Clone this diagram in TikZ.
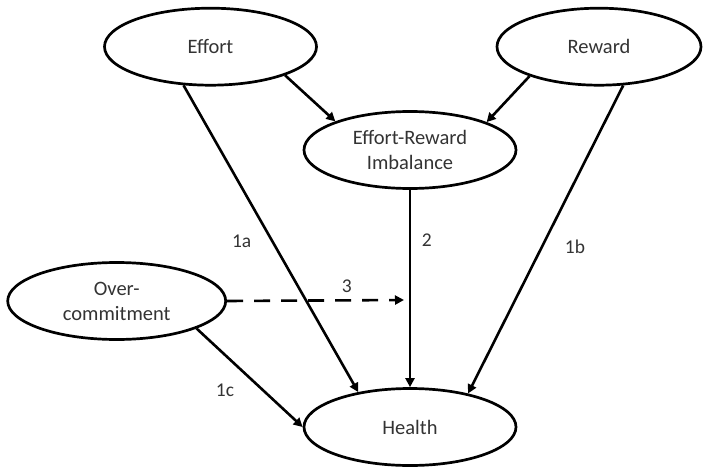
\documentclass[tikz,border=0pt]{standalone}
\usepackage{fontspec}
\setmainfont{Carlito}
\usetikzlibrary{shapes.geometric,arrows.meta}
\begin{document}
\begin{tikzpicture}[x=1pt,y=1pt,
  var/.style={ellipse,draw=black,line width=2.7pt,inner sep=0pt,
    minimum width=212pt,minimum height=77pt,align=center,
    text=black!80,font=\fontsize{20.5}{25}\selectfont},
  conn/.style={line width=2.6pt,-{Triangle[length=9pt,width=9pt]}},
  lbl/.style={text=black!80,font=\fontsize{19.5}{23}\selectfont,inner sep=0pt}]
\useasboundingbox (0,0) rectangle (703,-468);
\node[var] (effort) at (210.5,-46.7) {Effort};
\node[var,minimum width=204pt] (reward) at (599,-46.7) {Reward};
\node[var] (eri) at (410,-150) {Effort-Reward\\Imbalance};
\node[var,minimum width=218pt] (over) at (116.7,-301) {Over-\\commitment};
\node[var] (health) at (410,-427) {Health};
\coordinate (mod) at (404,-300);
\draw[conn] (effort.-21) -- (eri.159.7);
\draw[conn] (reward.203.4) -- (eri.20.9);
\draw[conn] (effort.235.3) -- (health.146.9);
\draw[conn] (reward.302.6) -- (health.30);
\draw[conn] (eri.south) -- (health.north);
\draw[conn] (over.-19.9) -- (health.west);
\draw[conn,dash pattern=on 16pt off 11pt] (over.east) -- (mod);
\node[lbl] (l1a) at (241.7,-241.7) {1a};
\node[lbl] (l2) at (426.7,-240.5) {2};
\node[lbl] (l3) at (346.7,-286.7) {3};
\node[lbl] (l1c) at (225,-390) {1c};
\node[lbl] (l1b) at (575,-246.7) {1b};
\end{tikzpicture}
\end{document}
